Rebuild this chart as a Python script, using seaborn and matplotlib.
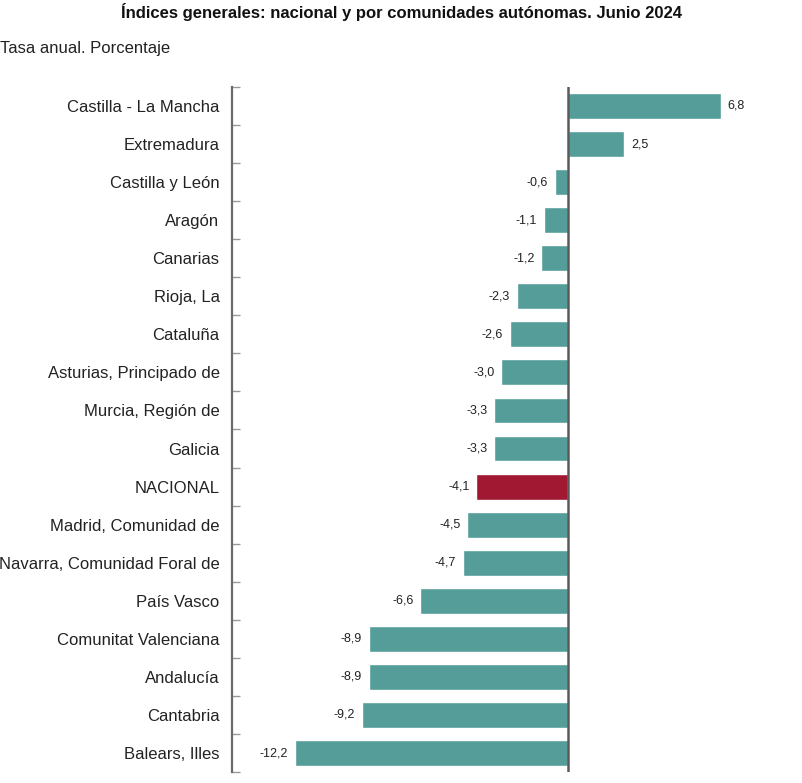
import numpy as np
import pandas as pd
import matplotlib
matplotlib.use("Agg")
import matplotlib.pyplot as plt
import seaborn as sns

regiones = [
    "Castilla - La Mancha", "Extremadura", "Castilla y León", "Aragón", "Canarias",
    "Rioja, La", "Cataluña", "Asturias, Principado de", "Murcia, Región de", "Galicia",
    "NACIONAL", "Madrid, Comunidad de", "Navarra, Comunidad Foral de", "País Vasco",
    "Comunitat Valenciana", "Andalucía", "Cantabria", "Balears, Illes",
]
tasas = [6.8, 2.5, -0.6, -1.1, -1.2, -2.3, -2.6, -3.0, -3.3, -3.3,
         -4.1, -4.5, -4.7, -6.6, -8.9, -8.9, -9.2, -12.2]

TEAL = "#559D98"
RED = "#A01832"

sns.set_style("white")
plt.rcParams['font.family'] = ['Liberation Sans', 'DejaVu Sans']

df = pd.DataFrame({"region": regiones, "tasa": tasas})
df["tipo"] = np.where(df["region"] == "NACIONAL", "nac", "ccaa")

fig = plt.figure(figsize=(8.03, 7.83), dpi=100)
ax = fig.add_axes([0.289, 0.014, 0.642, 0.875])

sns.barplot(data=df, y="region", x="tasa", hue="tipo", order=regiones,
            palette={"ccaa": TEAL, "nac": RED}, dodge=False, legend=False,
            width=0.68, saturation=1, orient="h", ax=ax)

ax.set_xlim(-15, 8)
ax.set_ylim(len(regiones) - 0.5, -0.5)
ax.axvline(0, color="#5a5a5a", lw=1.8, zorder=5)

for i, v in enumerate(tasas):
    txt = f"{v:.1f}".replace(".", ",")
    if v < 0:
        ax.text(v - 0.3, i, txt, ha="right", va="center", fontsize=9, color="#222222")
    else:
        ax.text(v + 0.3, i, txt, ha="left", va="center", fontsize=9, color="#222222")

for s in ["top", "right", "bottom"]:
    ax.spines[s].set_visible(False)
ax.spines["left"].set_color("#6a6a6a")
ax.spines["left"].set_linewidth(1.6)

ax.set_xticks([])
ax.set_xlabel("")
ax.set_ylabel("")
ax.set_yticks(range(len(regiones)))
ax.set_yticklabels(regiones, fontsize=12, color="#222222")
ax.tick_params(axis="y", which="major", left=False, length=0, pad=9)
ax.set_yticks(np.arange(-0.5, len(regiones), 1), minor=True)
ax.tick_params(axis="y", which="minor", left=True, direction="in", length=6, width=1, color="#999999")

fig.text(0.5, 0.985, "Índices generales: nacional y por comunidades autónomas. Junio 2024",
         ha="center", va="center", fontsize=12, fontweight="bold", color="#111111")
fig.text(0.0, 0.938, "Tasa anual. Porcentaje", ha="left", va="center", fontsize=12, color="#222222")

fig.savefig("out.png", dpi=100)
